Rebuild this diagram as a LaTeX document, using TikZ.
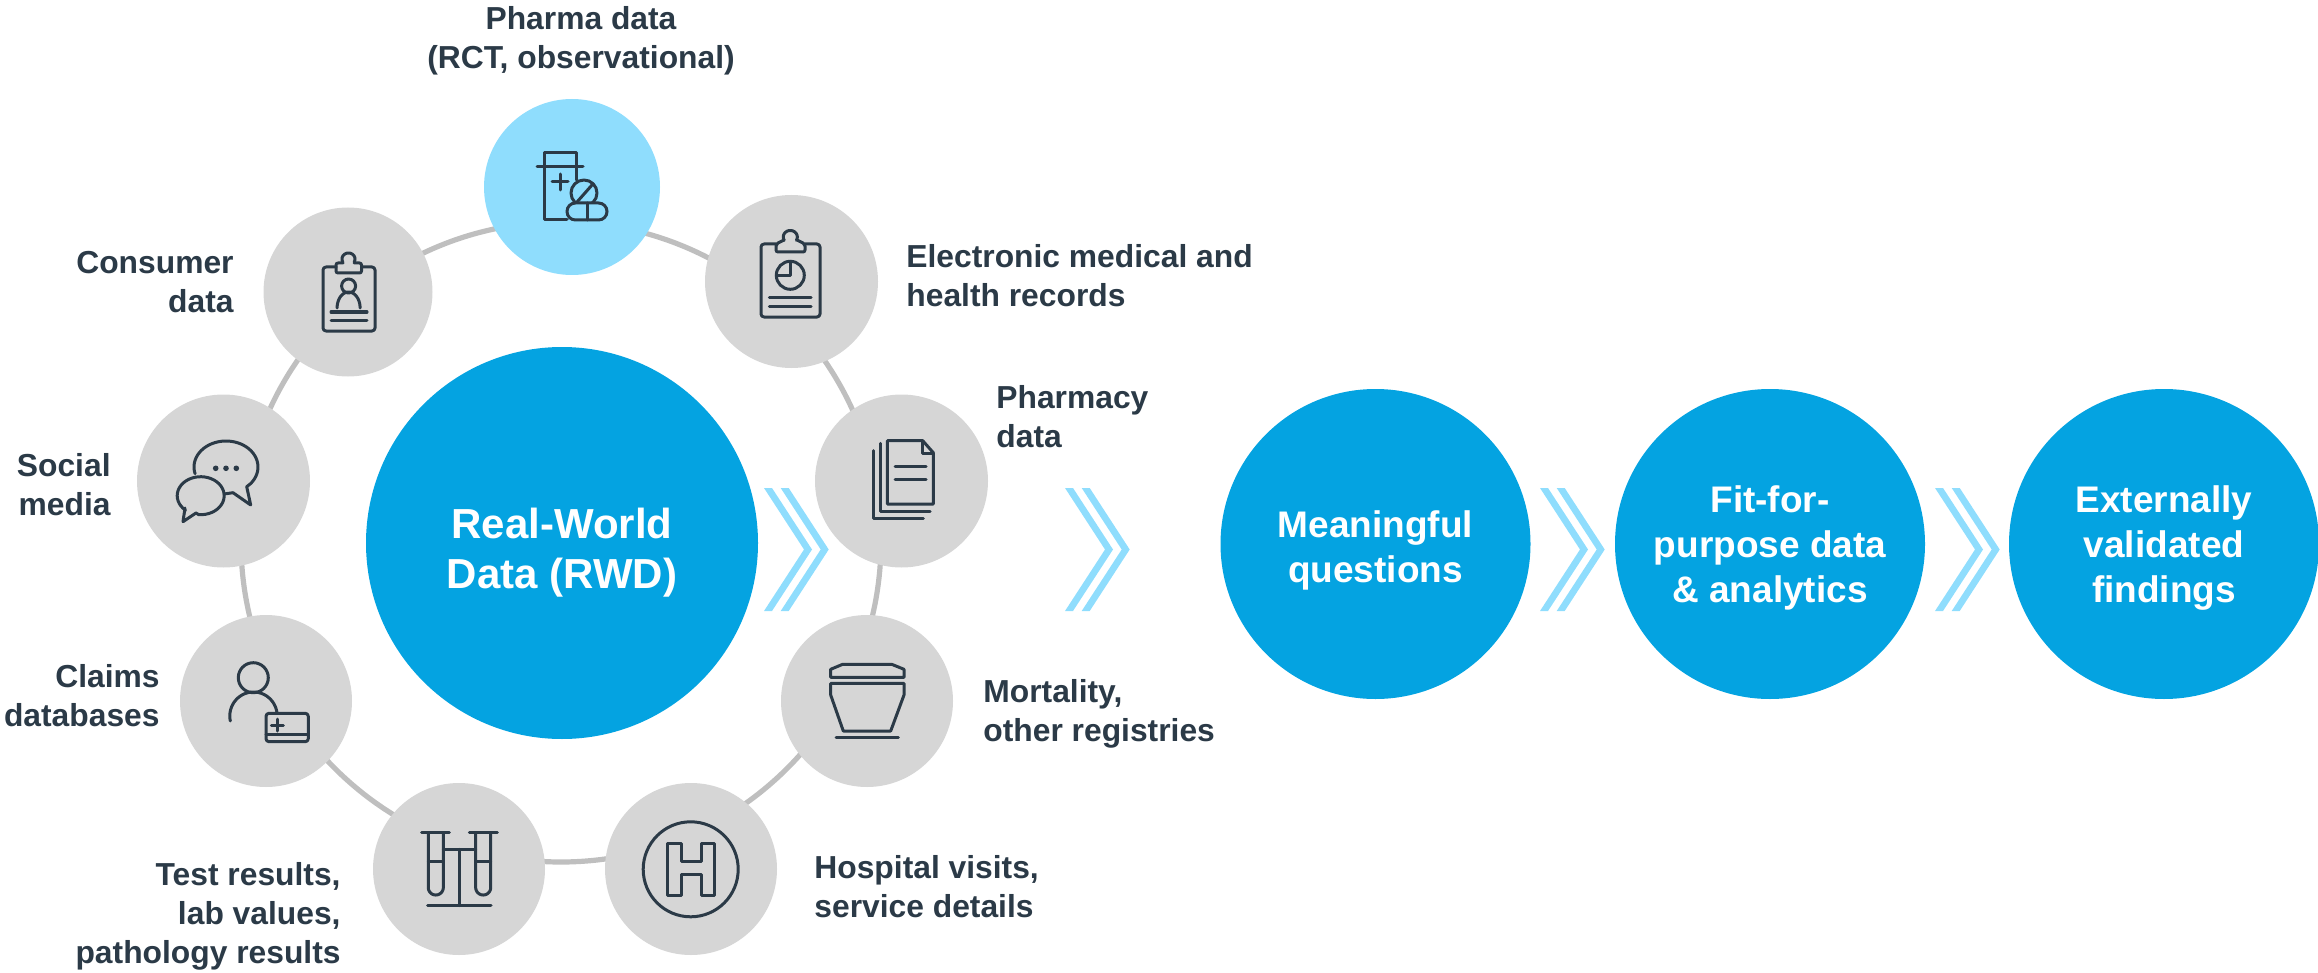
\documentclass[tikz,border=0pt]{standalone}
\usepackage{fontspec}
\setmainfont{Liberation Sans}
\definecolor{bluemain}{HTML}{04A3E1}
\definecolor{bluelight}{HTML}{8FDDFD}
\definecolor{greyfill}{HTML}{D6D6D6}
\definecolor{ringgrey}{HTML}{BFBFBF}
\definecolor{inkdark}{HTML}{2B3A47}
\tikzset{
  bubble/.style={circle,inner sep=0pt,fill=greyfill},
  bigblue/.style={circle,inner sep=0pt,fill=bluemain,minimum size=155pt,text=white,align=center,
    font=\fontsize{18.5}{22.5}\selectfont\bfseries},
  lab/.style={inner sep=0pt,text=inkdark,font=\fontsize{15.9}{19.5}\selectfont\bfseries},
  icon/.style={draw=inkdark,line width=1.5pt,line cap=round,line join=round},
  chev/.style={fill=bluelight,draw=none},
  blueword/.style={text=white,inner sep=0pt,align=center,font=\fontsize{18.5}{22.5}\selectfont\bfseries},
}
\newcommand{\earc}[6]{plot[domain=#5:#6,samples=40,variable=\t]({#1+#3*cos(\t)},{#2+#4*sin(\t)})}
\newcommand{\chevron}[1]{%
  \fill[chev] (#1,488)--(#1+8,488)--(#1+48,549.5)--(#1+8,611)--(#1,611)--(#1+40,549.5)--cycle;
  \fill[chev] (#1+16.7,488)--(#1+24.7,488)--(#1+64.7,549.5)--(#1+24.7,611)--(#1+16.7,611)--(#1+56.7,549.5)--cycle;}
\begin{document}
\begin{tikzpicture}[x=0.5pt,y=-0.5pt]
\useasboundingbox (0,0) rectangle (2318,973);
% ring
\node[circle,draw=ringgrey,line width=2.6pt,minimum size=320pt,inner sep=0pt] (ring) at (561,542) {};
% chevrons
\chevron{764}\chevron{1065}\chevron{1540}\chevron{1935}
% central and process circles
\node[circle,inner sep=0pt,fill=bluemain,minimum size=196pt] (rwd) at (562,543) {};
\node[text=white,inner sep=0pt,align=center,font=\fontsize{21}{25}\selectfont\bfseries] (rwdt) at (562,553) {Real-World\\Data (RWD)};
\node[bigblue] (q) at (1375.5,544) {};
\node[blueword] (qt) at (1375.5,550) {Meaningful\\questions};
\node[bigblue] (fit) at (1770,544) {};
\node[blueword] (fitt) at (1770,548) {Fit-for-\\purpose data\\\& analytics};
\node[bigblue] (ext) at (2164,544) {};
\node[blueword] (extt) at (2164,548) {Externally\\validated\\findings};
% source circles
\node[bubble,fill=bluelight,minimum size=88pt] (pharma) at (572,187) {};
\node[bubble,minimum size=84.5pt] (consumer) at (348,292) {};
\node[bubble,minimum size=86.5pt] (emr) at (791.5,281.5) {};
\node[bubble,minimum size=86.5pt] (social) at (223.5,481) {};
\node[bubble,minimum size=86.5pt] (pharmacy) at (901.5,481) {};
\node[bubble,minimum size=86pt] (claims) at (266,701) {};
\node[bubble,minimum size=86pt] (mort) at (867,701) {};
\node[bubble,minimum size=86pt] (test) at (459,869) {};
\node[bubble,minimum size=86pt] (hosp) at (691,869) {};
% labels
\node[lab,align=center] (l1) at (581,41) {Pharma data\\(RCT, observational)};
\node[lab,align=right,anchor=east] (l2) at (234,282) {Consumer\\data};
\node[lab,align=left,anchor=west] (l3) at (906,276) {Electronic medical and\\health records};
\node[lab,align=left,anchor=west] (l4) at (996,417) {Pharmacy\\data};
\node[lab,align=right,anchor=east] (l5) at (111,485) {Social\\media};
\node[lab,align=right,anchor=east] (l6) at (160,696) {Claims\\databases};
\node[lab,align=right,anchor=east] (l7) at (341,916) {Test results,\\lab values,\\pathology results};
\node[lab,align=left,anchor=west] (l8) at (814,887) {Hospital visits,\\service details};
\node[lab,align=left,anchor=west] (l9) at (983,714) {Mortality,\\other registries};
% pharma icon
\draw[icon] (567,220)--(544,220)--(544,153)--(576,153)--(576,180);
\draw[icon] (537,167)--(583,167);
\draw[icon] (552,182)--(568,182) (560,174)--(560,190);
\draw[icon] (584,193) circle[radius=13];
\draw[icon] (577,202)--(592,185);
\draw[icon,fill=bluelight,rounded corners=4.2pt] (567,203) rectangle (607,220);
\draw[icon] (587.5,203)--(587.5,220);
% consumer icon
\draw[icon,rounded corners=1.5pt] (336,267)--(323,267)--(323,331)--(375,331)--(375,267)--(361.5,267);
\draw[icon,rounded corners=1pt] (343,263)--(336,263)--(336,273)--(361.5,273)--(361.5,263)--(354,263);
\draw[icon] \earc{348.5}{259}{6.5}{6}{150}{390};
\draw[icon] (348.6,286) circle[radius=7];
\draw[icon] \earc{348.6}{308}{11.5}{16}{180}{360};
\draw[icon] (331,312)--(367,312) (331,320)--(367,320);
% EMR icon
\draw[icon,rounded corners=1.5pt] (776,244)--(761,244)--(761,317)--(820,317)--(820,244)--(805,244);
\draw[icon,rounded corners=1pt] (784,240)--(776,244)--(776,252)--(805,252)--(805,244)--(797,240);
\draw[icon] \earc{790.3}{237}{7}{6.5}{150}{390};
\draw[icon] (790.3,275.3) circle[radius=14];
\draw[icon] (790.3,261.3)--(790.3,275.3)--(776.3,275.3);
\draw[icon] (769.3,297.3)--(811,297.3) (769.3,306.7)--(811,306.7);
% social icon
\draw[icon] \earc{226}{467}{32}{26}{165}{400} -- (246.7,486.7) -- (250.7,505) -- (233,492.7) -- (224,494);
\draw[icon] \earc{200.7}{495.7}{23.5}{19}{-230}{95} -- (196,513) -- (183,521.7) -- (185,508);
\fill[inkdark] (215.7,468.3) circle[radius=2.8] (226,468.3) circle[radius=2.8] (236.3,468.3) circle[radius=2.8];
% claims icon
\draw[icon] (253.3,677.7) circle[radius=15];
\draw[icon] \earc{253.5}{716}{23.7}{24}{168}{350};
\draw[icon,rounded corners=1.5pt] (266,713.3) rectangle (308.3,741.7);
\draw[icon] (266,734)--(308.3,734);
\draw[icon] (271.3,725)--(283.3,725) (277.3,719)--(277.3,731);
% test icon
\draw[icon] (421.7,832.7)--(449.3,832.7) (469.3,832.7)--(497.3,832.7);
\draw[icon] (428.3,832.7)--(428.3,887.5) \earc{435.8}{887.5}{7.5}{7.5}{180}{0} -- (443.3,832.7);
\draw[icon] (475.7,832.7)--(475.7,887.5) \earc{483.2}{887.5}{7.5}{7.5}{180}{0} -- (490.7,832.7);
\draw[icon] (428.3,861.7)--(443.3,861.7) (475.7,861.7)--(490.7,861.7);
\draw[icon] (443.3,849.3)--(475.7,849.3) (459,849.3)--(459,905.7) (427.7,905.7)--(491,905.7);
% hospital icon
\draw[icon] (690.7,869.3) circle[radius=47.5];
\draw[icon] (667.7,843.3)--(681.7,843.3)--(681.7,861.7)--(701,861.7)--(701,843.3)--(714.3,843.3)--(714.3,895)--(701,895)--(701,874)--(681.7,874)--(681.7,895)--(667.7,895)--cycle;
% mortality icon
\draw[icon] (830.7,677.3)--(830.7,669.3)--(842.7,664.3)--(891.7,664.3)--(904,669.3)--(904,677.3)--cycle;
\draw[icon] (830.7,683.3)--(904,683.3)--(904,695)--(890.7,731)--(843.3,731)--(830.7,695)--cycle;
\draw[icon] (836,737.3)--(898.3,737.3);
% pharmacy icon
\draw[icon] (887.3,440.7)--(922.7,440.7)--(933.3,452.7)--(933.3,504)--(887.3,504)--cycle;
\draw[icon] (922.7,440.7)--(922.7,453)--(933.3,453);
\draw[icon] (895,466)--(926,466) (895,479.3)--(926,479.3);
\draw[icon] (880,443.3)--(880,511.7)--(930,511.7);
\draw[icon] (873.3,450.7)--(873.3,518.3)--(923.3,518.3);
\end{tikzpicture}
\end{document}
